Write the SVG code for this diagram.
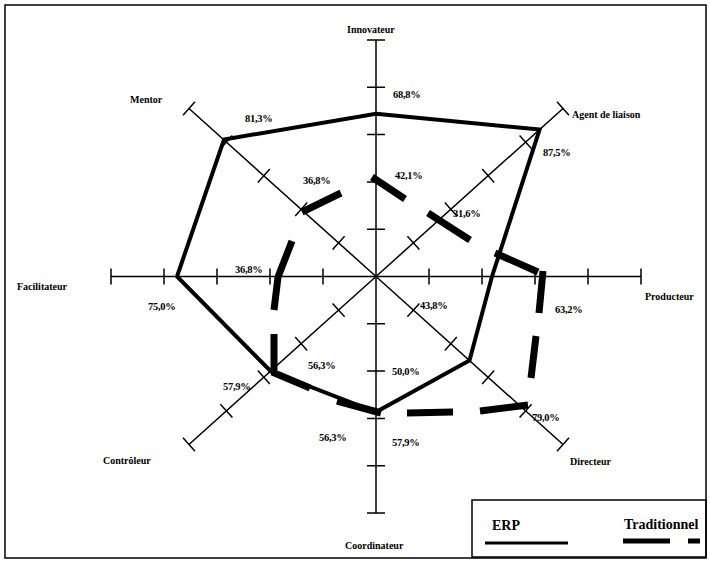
<svg xmlns="http://www.w3.org/2000/svg" width="710" height="563" viewBox="0 0 710 563">
<style>
.frame{fill:none;stroke:#000;stroke-width:1.5}
.axis{fill:none;stroke:#000;stroke-width:1.5}
.erp{fill:none;stroke:#000;stroke-width:4;stroke-linejoin:miter}
.trad{fill:none;stroke:#000;stroke-width:7;stroke-linecap:butt;stroke-linejoin:miter}
.lbl{font-family:"Liberation Serif","Times New Roman",serif;font-size:10px;font-weight:bold;fill:#000}
.pct{font-family:"Liberation Serif","Times New Roman",serif;font-size:10.5px;font-weight:bold;fill:#000;letter-spacing:-0.3px}
.leg{font-family:"Liberation Serif","Times New Roman",serif;font-size:14px;font-weight:bold;fill:#000}
</style>
<rect width="710" height="563" fill="#fff"/>
<rect class="frame" x="5" y="5" width="701" height="553"/>

<g id="axis-innovateur">
<path class="axis" d="M376,276.5 V40 M367,40H385 M367,87.3H385 M367,134.6H385 M367,181.9H385 M367,229.2H385"/>
<text class="lbl" x="347" y="33">Innovateur</text>
</g>
<g id="axis-agent">
<path class="axis" d="M376,276.5 L563,108.5 M407.4,236.2 L419.4,249.6 M444.8,202.6 L456.8,216 M482.2,169 L494.2,182.4 M519.6,135.4 L531.6,148.8 M557,101.8 L569,115.2"/>
<text class="lbl" x="572" y="118">Agent de liaison</text>
</g>
<g id="axis-producteur">
<path class="axis" d="M376,276.5 H641 M429,268.5V284.5 M482,268.5V284.5 M535,268.5V284.5 M588,268.5V284.5 M641,268.5V284.5"/>
<text class="lbl" x="645" y="300">Producteur</text>
</g>
<g id="axis-directeur">
<path class="axis" d="M376,276.5 L563,444.5 M407.4,316.8 L419.4,303.4 M444.8,350.4 L456.8,337 M482.2,384 L494.2,370.6 M519.6,417.6 L531.6,404.2 M557,451.2 L569,437.8"/>
<text class="lbl" x="570" y="465">Directeur</text>
</g>
<g id="axis-coordinateur">
<path class="axis" d="M376,276.5 V513 M367,323.8H385 M367,371.1H385 M367,418.4H385 M367,465.7H385 M367,513H385"/>
<text class="lbl" x="345" y="549">Coordinateur</text>
</g>
<g id="axis-controleur">
<path class="axis" d="M376,276.5 L189,444.5 M332.6,303.4 L344.6,316.8 M295.2,337 L307.2,350.4 M257.8,370.6 L269.8,384 M220.4,404.2 L232.4,417.6 M183,437.8 L195,451.2"/>
<text class="lbl" x="103" y="464">Contrôleur</text>
</g>
<g id="axis-facilitateur">
<path class="axis" d="M376,276.5 H111 M323,268.5V284.5 M270,268.5V284.5 M217,268.5V284.5 M164,268.5V284.5 M111,268.5V284.5"/>
<text class="lbl" x="17" y="290">Facilitateur</text>
</g>
<g id="axis-mentor">
<path class="axis" d="M376,276.5 L189,108.5 M332.6,249.6 L344.6,236.2 M295.2,216 L307.2,202.6 M257.8,182.4 L269.8,169 M220.4,148.8 L232.4,135.4 M183,115.2 L195,101.8"/>
<text class="lbl" x="130" y="103">Mentor</text>
</g>

<g id="connectors">
<g id="series-erp">
<polygon class="erp" points="376,113.8 539.6,129.5 492,276.5 469.5,360.5 376,412 271,371.5 177,276.5 224,139.5"/>
</g>
<g id="series-traditionnel">
<path class="trad" d="M302,212 L341,193 M372,177 L405,199 M428,213 L470,240 M495,253 L538,272 M543,271 L539,313 M536,336 L531,378 M528,405 L480,411 M453,412 L407,413 M381,413 L337,401 M310,388 L272,372 M274,370 L274,334 M274,310 L278,277 L292,241"/>
</g>
</g>

<g id="values">
<text class="pct" x="245" y="122">81,3%</text>
<text class="pct" x="393" y="98">68,8%</text>
<text class="pct" x="543" y="156">87,5%</text>
<text class="pct" x="395" y="179">42,1%</text>
<text class="pct" x="303" y="184">36,8%</text>
<text class="pct" x="453" y="217">31,6%</text>
<text class="pct" x="235" y="273">36,8%</text>
<text class="pct" x="148" y="310">75,0%</text>
<text class="pct" x="555" y="313">63,2%</text>
<text class="pct" x="420" y="309">43,8%</text>
<text class="pct" x="392" y="375">50,0%</text>
<text class="pct" x="308" y="369">56,3%</text>
<text class="pct" x="223" y="390">57,9%</text>
<text class="pct" x="319" y="441">56,3%</text>
<text class="pct" x="392" y="446">57,9%</text>
<text class="pct" x="532" y="421">79,0%</text>
</g>

<g id="legend">
<rect class="frame" x="472" y="500" width="234" height="57"/>
<text class="leg" x="492" y="530">ERP</text>
<text class="leg" x="624" y="529">Traditionnel</text>
<path d="M485,543 H568" stroke="#000" stroke-width="3"/>
<path d="M623,541 H670 M688,541 H700" stroke="#000" stroke-width="5"/>
</g>
</svg>
